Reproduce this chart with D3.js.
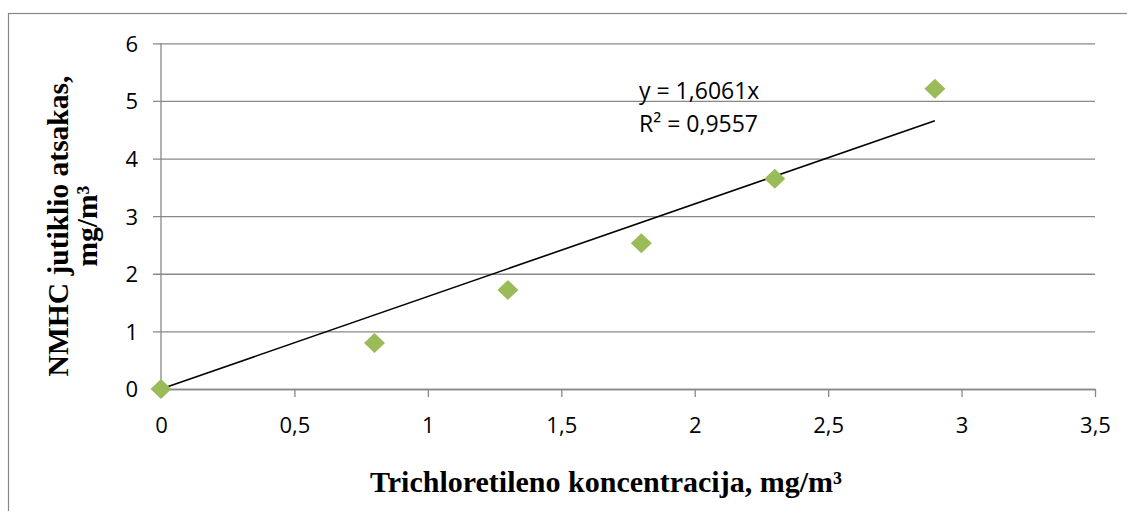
<!DOCTYPE html>
<html>
<head>
<meta charset="utf-8">
<script src="https://cdn.jsdelivr.net/npm/d3@7"></script>
<style>
  body { margin: 0; background: #fff; }
  svg { display: block; }
</style>
</head>
<body>
<div id="chart"></div>
<script>
const kWidth = 1127;
const kHeight = 511;

// data
const concentrations = [0, 0.8, 1.3, 1.8, 2.3, 2.9];
const responses = [0, 0.80, 1.72, 2.53, 3.65, 5.21];
const xTicks = [0, 0.5, 1, 1.5, 2, 2.5, 3, 3.5];
const yTicks = [0, 1, 2, 3, 4, 5, 6];
const slope = 1.6061;
const equationLines = ["y = 1,6061x", "R² = 0,9557"];

const xTitle = "Trichloretileno koncentracija, mg/m³";
const yTitleLines = ["NMHC jutiklio atsakas,", "mg/m³"];

const plot = { left: 161, right: 1095, top: 43.3, bottom: 389 };
const gridColor = "#888888";
const markerColor = "#9bbb59";

const fmt = v => String(v).replace(".", ",");

const svg = d3.select("#chart")
  .append("svg")
  .attr("width", kWidth)
  .attr("height", kHeight);

// outer frame (continues past right and bottom edge)
svg.append("rect")
  .attr("x", 8.5)
  .attr("y", 13.5)
  .attr("width", 1300)
  .attr("height", 700)
  .attr("fill", "none")
  .attr("stroke", gridColor)
  .attr("stroke-width", 1.2);

const xScale = d3.scaleLinear()
  .domain([0, 3.5])
  .range([plot.left, plot.right]);

const yScale = d3.scaleLinear()
  .domain([0, 6])
  .range([plot.bottom, plot.top]);

// y axis with gridlines
const yAxis = d3.axisLeft(yScale)
  .tickValues(yTicks)
  .tickSize(-(plot.right - plot.left))
  .tickPadding(16)
  .tickFormat(fmt);

const yG = svg.append("g")
  .attr("transform", `translate(${plot.left}, 0)`)
  .call(yAxis);
yG.select(".domain").remove();
yG.selectAll(".tick line")
  .attr("x1", -8)
  .attr("stroke", gridColor)
  .attr("stroke-width", 1.3);
yG.selectAll(".tick text")
  .attr("font-family", "'Open Sans', sans-serif")
  .attr("font-size", 22)
  .attr("fill", "#000")
  .attr("x", -23)
  .attr("dy", "0.36em");

svg.append("line")
  .attr("x1", plot.left).attr("x2", plot.left)
  .attr("y1", plot.top).attr("y2", plot.bottom)
  .attr("stroke", gridColor)
  .attr("stroke-width", 1.3);

// x axis
const xAxis = d3.axisBottom(xScale)
  .tickValues(xTicks)
  .tickSize(8)
  .tickSizeOuter(0)
  .tickPadding(20)
  .tickFormat(fmt);

const xG = svg.append("g")
  .attr("transform", `translate(0, ${plot.bottom})`)
  .call(xAxis);
xG.select(".domain")
  .attr("stroke", gridColor)
  .attr("stroke-width", 1.3);
xG.selectAll(".tick line")
  .attr("stroke", gridColor)
  .attr("stroke-width", 1.3);
xG.selectAll(".tick text")
  .attr("font-family", "'Open Sans', sans-serif")
  .attr("font-size", 22)
  .attr("fill", "#000");

// linear trend through the origin
const xEnd = d3.max(concentrations);
svg.append("line")
  .attr("x1", xScale(0))
  .attr("y1", yScale(0))
  .attr("x2", xScale(xEnd))
  .attr("y2", yScale(slope * xEnd))
  .attr("stroke", "#000")
  .attr("stroke-width", 1.6);

// markers
svg.selectAll("path.marker")
  .data(concentrations)
  .enter()
  .append("path")
  .attr("class", "marker")
  .attr("d", "M0,-10L10.5,0L0,10L-10.5,0Z")
  .attr("transform", (d, i) => `translate(${xScale(d)}, ${yScale(responses[i])})`)
  .attr("fill", markerColor);

// equation label
svg.append("g")
  .selectAll("text")
  .data(equationLines)
  .enter()
  .append("text")
  .attr("x", 639)
  .attr("y", (d, i) => 99 + i * 32.5)
  .attr("font-family", "'Open Sans', sans-serif")
  .attr("font-size", 23)
  .attr("fill", "#000")
  .text(d => d);

// axis titles
svg.append("text")
  .attr("x", 606)
  .attr("y", 492)
  .attr("text-anchor", "middle")
  .attr("font-family", "'Liberation Serif', 'Times New Roman', serif")
  .attr("font-weight", "bold")
  .attr("font-size", 30)
  .attr("fill", "#000")
  .text(xTitle);

svg.append("g")
  .attr("transform", "translate(0, 226) rotate(-90)")
  .selectAll("text")
  .data(yTitleLines)
  .enter()
  .append("text")
  .attr("x", 0)
  .attr("y", (d, i) => 68 + i * 29)
  .attr("text-anchor", "middle")
  .attr("font-family", "'Liberation Serif', 'Times New Roman', serif")
  .attr("font-weight", "bold")
  .attr("font-size", 29.5)
  .attr("fill", "#000")
  .text(d => d);
</script>
</body>
</html>
